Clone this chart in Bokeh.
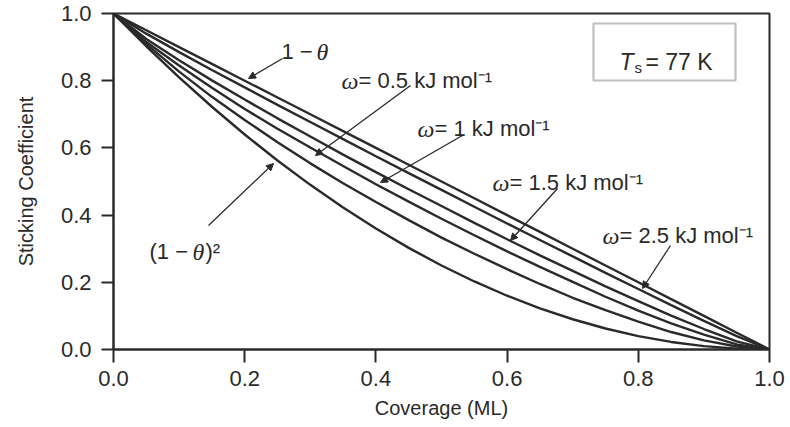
from bokeh.plotting import figure
from bokeh.models import Range1d, FixedTicker, PrintfTickFormatter, Arrow, NormalHead, BoxAnnotation
from bokeh.core.properties import value
from bokeh.embed import file_html
from bokeh.resources import INLINE

# Coverage grid (ML)
coverage = [0.0, 0.05, 0.10, 0.15, 0.20, 0.25, 0.30, 0.35, 0.40, 0.45, 0.50,
            0.55, 0.60, 0.65, 0.70, 0.75, 0.80, 0.85, 0.90, 0.95, 1.0]

# Sticking coefficient curves
s_linear = [1.0, 0.95, 0.90, 0.85, 0.80, 0.75, 0.70, 0.65, 0.60, 0.55, 0.50,
            0.45, 0.40, 0.35, 0.30, 0.25, 0.20, 0.15, 0.10, 0.05, 0.0]
s_w25 = [1.0, 0.940, 0.885, 0.832, 0.780, 0.728, 0.677, 0.626, 0.575, 0.525, 0.475,
         0.425, 0.375, 0.326, 0.277, 0.228, 0.180, 0.132, 0.085, 0.040, 0.0]
s_w15 = [1.0, 0.924, 0.861, 0.801, 0.744, 0.688, 0.634, 0.580, 0.528, 0.477, 0.427,
         0.377, 0.328, 0.280, 0.234, 0.188, 0.144, 0.101, 0.061, 0.024, 0.0]
s_w10 = [1.0, 0.915, 0.845, 0.779, 0.716, 0.657, 0.601, 0.546, 0.492, 0.440, 0.389,
         0.340, 0.292, 0.246, 0.201, 0.157, 0.116, 0.078, 0.044, 0.015, 0.0]
s_w05 = [1.0, 0.909, 0.827, 0.752, 0.683, 0.617, 0.554, 0.495, 0.439, 0.385, 0.333,
         0.285, 0.239, 0.195, 0.154, 0.117, 0.083, 0.052, 0.027, 0.009, 0.0]
s_square = [1.0, 0.9025, 0.81, 0.7225, 0.64, 0.5625, 0.49, 0.4225, 0.36, 0.3025, 0.25,
            0.2025, 0.16, 0.1225, 0.09, 0.0625, 0.04, 0.0225, 0.01, 0.0025, 0.0]

tick_values = [0.0, 0.2, 0.4, 0.6, 0.8, 1.0]

INK = "#2a2a2a"
SANS = "Liberation Sans"
SERIF = "Liberation Serif"

# frame placement in canvas pixels
FL, FR, FT, FB = 113, 769, 13, 349


def dx(px):
    return (px - FL) / (FR - FL)


def dy(py):
    return (FB - py) / (FB - FT)


p = figure(width=790, height=427, x_range=Range1d(0, 1), y_range=Range1d(0, 1),
           output_backend="svg", toolbar_location=None,
           min_border_left=FL, min_border_right=790 - FR,
           min_border_top=FT, min_border_bottom=427 - FB)
p.title.visible = False
p.background_fill_color = "white"
p.border_fill_color = "white"
p.grid.visible = False
p.outline_line_color = INK
p.outline_line_width = 2

for ax in (p.xaxis, p.yaxis):
    ax.ticker = FixedTicker(ticks=tick_values)
    ax.formatter = PrintfTickFormatter(format="%.1f")
    ax.minor_tick_line_color = None
    ax.major_tick_in = 0
    ax.major_tick_line_color = INK
    ax.major_tick_line_width = 2
    ax.axis_line_color = INK
    ax.axis_line_width = 2
    ax.major_label_text_font = SANS
    ax.major_label_text_font_size = "22px"
    ax.major_label_text_color = INK
    ax.axis_label_text_font = SANS
    ax.axis_label_text_font_size = "20px"
    ax.axis_label_text_font_style = "normal"
    ax.axis_label_text_color = INK

p.xaxis.major_tick_out = 13
p.xaxis.major_label_standoff = 8
p.xaxis.axis_label = "Coverage (ML)"
p.xaxis.axis_label_standoff = 8
p.yaxis.major_tick_out = 12
p.yaxis.major_label_standoff = 10
p.yaxis.axis_label = "Sticking Coefficient"
p.yaxis.axis_label_standoff = 21

for series in (s_linear, s_w25, s_w15, s_w10, s_w05, s_square):
    p.line(coverage, series, line_color=INK, line_width=2.4)

# label pointers
pointers = [
    ((282, 58), (248, 78)),
    ((410, 85), (315, 155)),
    ((462, 135), (380, 182)),
    ((557, 188), (510, 240)),
    ((670, 245), (642, 288)),
    ((208, 225), (273, 163)),
]
for (sx, sy), (ex, ey) in pointers:
    p.add_layout(Arrow(x_start=dx(sx), y_start=dy(sy), x_end=dx(ex), y_end=dy(ey),
                       line_color=INK, line_width=1.3,
                       end=NormalHead(size=7, fill_color=INK, line_color=INK, line_width=1)))

# curve labels: (text, font, style, size, left px, baseline px)
pieces = [
    ("1 \u2212", SANS, "normal", 22, 281, 51),
    ("\u03b8", SERIF, "italic", 24, 316, 51),
    ("\u03c9", SERIF, "italic", 24, 341, 80),
    ("= 0.5 kJ mol\u207b\u00b9", SANS, "normal", 22, 358, 80),
    ("\u03c9", SERIF, "italic", 24, 417, 128),
    ("= 1 kJ mol\u207b\u00b9", SANS, "normal", 22, 434, 128),
    ("\u03c9", SERIF, "italic", 24, 492, 182),
    ("= 1.5 kJ mol\u207b\u00b9", SANS, "normal", 22, 509, 182),
    ("\u03c9", SERIF, "italic", 24, 602, 235),
    ("= 2.5 kJ mol\u207b\u00b9", SANS, "normal", 22, 619, 235),
    ("(1 \u2212", SANS, "normal", 22, 149, 251),
    ("\u03b8", SERIF, "italic", 24, 192, 251),
    (")\u00b2", SANS, "normal", 22, 205, 251),
    ("T", SANS, "italic", 23, 619, 61),
    ("s", SANS, "normal", 15, 634, 67),
    ("= 77 K", SANS, "normal", 23, 645, 61),
]
for txt, font, style, size, lx, by in pieces:
    p.text(x=[dx(lx)], y=[dy(by)], text=[txt], text_font=value(font),
           text_font_style=style, text_font_size=f"{size}px", text_color=INK,
           text_align="left", text_baseline="alphabetic")

# temperature box
p.add_layout(BoxAnnotation(left=dx(593), right=dx(735), top=dy(23), bottom=dy(80),
                           fill_alpha=0, line_color=INK, line_width=2.2))

open("out.html", "w").write(file_html(p, INLINE))
